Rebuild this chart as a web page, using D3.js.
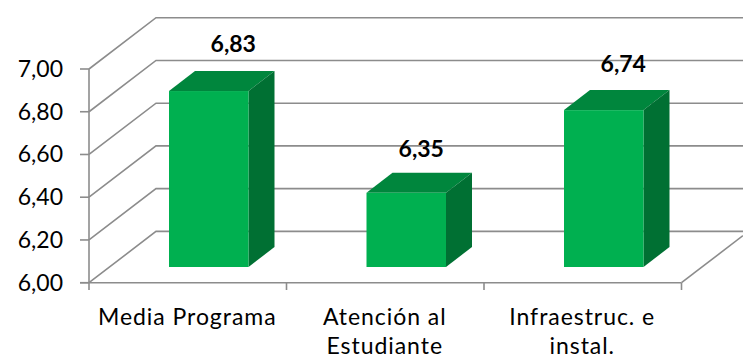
<!DOCTYPE html>
<html><head><meta charset="utf-8">
<style>html,body{margin:0;padding:0;background:#fff}svg{display:block}text{font-family:Lato,"Open Sans",sans-serif;fill:#000}</style>
<script src="https://cdnjs.cloudflare.com/ajax/libs/d3/7.8.5/d3.min.js"></script>
</head><body><script>
const categories = [["Media Programa"],["Atención al","Estudiante"],["Infraestruc. e","instal."]];
const values = [6.83,6.35,6.74];
const valueLabels = ["6,83","6,35","6,74"];
const tickValues = [6,6.2,6.4,6.6,6.8,7];
const tickLabels = ["6,00","6,20","6,40","6,60","6,80","7,00"];

const W=743,H=359;
const svg=d3.select("body").append("svg").attr("width",W).attr("height",H);
const gray="#8c8c8c";
const x=d3.scaleBand().domain([0,1,2]).range([89,681.5]);
const y=d3.scaleLinear().domain([6,7]).range([282.7,69]);
const yBar=d3.scaleLinear().domain([6,7]).range([267,55]);
const wall={dx:67,dy:-51.3};
const depth={dx:26,dy:-20};
const barW=79.5, barShift=21;
const nudge=[[24.5,-19],[15,-15.5],[19.5,-18]];

// gridlines on walls
const g=svg.append("g").attr("fill","none").attr("stroke",gray).attr("stroke-width",1.6);
tickValues.forEach(t=>{
  g.append("path").attr("d",d3.line()([[x.range()[0],y(t)],[x.range()[0]+wall.dx,y(t)+wall.dy],[W,y(t)+wall.dy]]));
  g.append("line").attr("x1",80).attr("x2",89).attr("y1",y(t)).attr("y2",y(t));
});
// floor and axes
g.append("line").attr("x1",89).attr("x2",89).attr("y1",y(7)).attr("y2",290);
g.append("line").attr("x1",80).attr("x2",x.range()[1]).attr("y1",y(6)).attr("y2",y(6));
g.append("line").attr("x1",x.range()[1]).attr("y1",y(6)).attr("x2",x.range()[1]+wall.dx-5.5).attr("y2",y(6)+wall.dy+4.2);
[0,1,2].forEach(i=>{const p=x(i)+x.bandwidth();
  g.append("line").attr("x1",p).attr("x2",p).attr("y1",y(6)).attr("y2",290);});

// bars
const bars=svg.append("g").selectAll("g").data(values).join("g");
const bx=(d,i)=>x(i)+x.bandwidth()/2+barShift-barW/2;
bars.append("path").attr("fill","#00863d")
 .attr("d",(d,i)=>{const X=bx(d,i),T=yBar(d);return d3.line()([[X,T],[X+depth.dx,T+depth.dy],[X+barW+depth.dx,T+depth.dy],[X+barW,T]])+"Z";});
bars.append("path").attr("fill","#007033")
 .attr("d",(d,i)=>{const X=bx(d,i)+barW,T=yBar(d),B=yBar(6);return d3.line()([[X,T],[X+depth.dx,T+depth.dy],[X+depth.dx,B+depth.dy],[X,B]])+"Z";});
bars.append("rect").attr("fill","#00b050")
 .attr("x",bx).attr("y",d=>yBar(d)).attr("width",barW).attr("height",d=>yBar(6)-yBar(d));

// y labels
svg.append("g").selectAll("text").data(tickValues).join("text")
 .attr("x",63).attr("y",t=>y(t)+8).attr("text-anchor","end").attr("font-size",23)
 .text((t,i)=>tickLabels[i]);
// value labels
svg.append("g").selectAll("text").data(values).join("text")
 .attr("x",(d,i)=>x(i)+x.bandwidth()/2+barShift+nudge[i][0])
 .attr("y",(d,i)=>yBar(d)+depth.dy+nudge[i][1])
 .attr("text-anchor","middle").attr("font-weight","bold").attr("font-size",23)
 .text((d,i)=>valueLabels[i]);
// categories
const c=svg.append("g").selectAll("text").data(categories).join("text")
 .attr("text-anchor","middle").attr("font-size",23).attr("letter-spacing",0.95);
c.each(function(lines,i){
  d3.select(this).selectAll("tspan").data(lines).join("tspan")
   .attr("x",x(i)+x.bandwidth()/2-0.5).attr("y",(l,j)=>325+j*29).text(l=>l);
});
</script></body></html>
